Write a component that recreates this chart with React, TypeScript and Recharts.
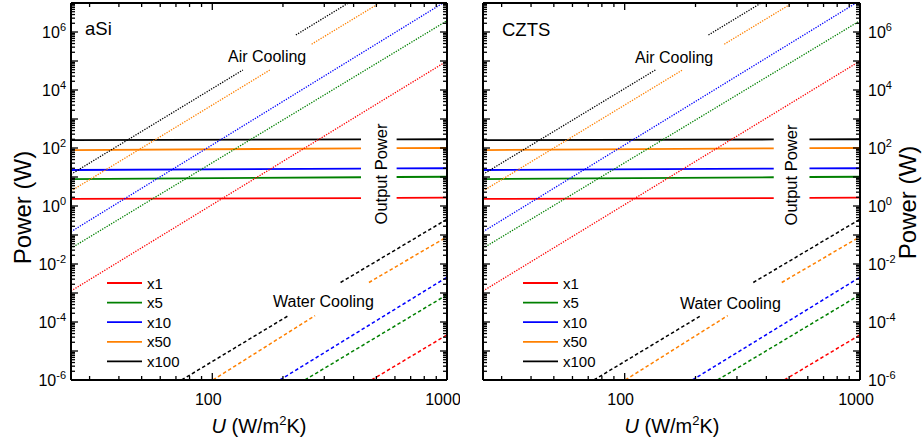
import React from "react";
import { LineChart, Line, XAxis, YAxis, Legend } from "recharts";

const FONT = '"Liberation Sans", Arial, Helvetica, sans-serif';

const series = ["x1", "x5", "x10", "x50", "x100"];
const seriesColors = ["#ff0000", "#008000", "#0000ff", "#ff8000", "#000000"];

// output power (W), solid lines, broken around the "Output Power" label
const outputU = [25, 430, 520, 610, 1000];
const outputP = [
  [1.75, 1.88, null, 1.9, 1.93],
  [8.5, 9.8, null, 10, 10.2],
  [17.4, 19.5, null, 19.8, 20],
  [85, 97, null, 99, 100],
  [187, 197, null, 199, 200],
];

// air cooling (dotted)
const airU = [
  [25, 1000],
  [25, 1000],
  [25, 962],
  [25, 176, 220, 265, 505],
  [25, 135, 180, 227, 380],
];
const airP = [
  [1.17e-3, 1.0e5],
  [0.035, 2.45e6],
  [0.13, 1e7],
  [3.3, 4.9e4, null, 3.8e5, 9e6],
  [12.4, 4.9e4, null, 7.9e5, 1e7],
];

// water cooling (dashed)
const waterU = [
  [477, 1000],
  [248, 1000],
  [194, 1000],
  [100.6, 274, 360, 465, 1000],
  [74, 211, 280, 352, 1000],
];
const waterP = [
  [1e-6, 3.6e-5],
  [1e-6, 8.7e-4],
  [1e-6, 3.5e-3],
  [1e-6, 1.66e-4, null, 2.3e-3, 8.7e-2],
  [1e-6, 1.66e-4, null, 2.3e-3, 0.35],
];

const xTicks = [30, 40, 50, 60, 70, 80, 90, 100, 200, 300, 400, 500, 600, 700, 800, 900, 1000];
const xLabels = [100, 1000];
const yDecades = [-6, -5, -4, -3, -2, -1, 0, 1, 2, 3, 4, 5, 6];
const yMantissas = [1, 2, 3, 4, 5, 6, 7, 8, 9];
const yTicks = [...yDecades.flatMap((e) => yMantissas.map((m) => m * 10 ** e)), 1e7];
const yLabelTicks = yDecades.filter((e) => e % 2 === 0).map((e) => 10 ** e);

const pts = (us: number[], ps: (number | null)[]) => us.map((u, i) => ({ u, p: ps[i] }));

const splitLog = (v: number) => {
  const e = Math.floor(Math.log10(v) + 1e-9);
  return { e, m: Math.round(v / 10 ** e) };
};

const MAJOR = 7;
const MINOR = 4;

// tick marks live on mirrored axes so they point into the plot
function InTick(props: any) {
  const { x, y, payload, side } = props;
  const v = payload.value;
  const major = side === "top" || side === "bottom" ? xLabels.includes(v) : splitLog(v).m === 1;
  const len = major ? MAJOR : MINOR;
  const d =
    side === "left" ? `M${x},${y}h${len}` :
    side === "right" ? `M${x},${y}h${-len}` :
    side === "bottom" ? `M${x},${y}v${-len}` : `M${x},${y}v${len}`;
  return <path d={d} stroke="#000" strokeWidth={1.3} fill="none" />;
}

function YLabel(props: any) {
  const { x, y, payload, side } = props;
  const { e } = splitLog(payload.value);
  const left = side === "left";
  return (
    <text x={left ? x - 5 : x + 8} y={y + 6} textAnchor={left ? "end" : "start"} fontSize={16} fontFamily={FONT} fill="#000">
      10
      <tspan dy={-7} fontSize={11}>
        {e}
      </tspan>
    </text>
  );
}

function XLabel(props: any) {
  const { x, y, payload } = props;
  return (
    <text x={x - 4} y={y + 25} textAnchor="middle" fontSize={16} fontFamily={FONT} fill="#000">
      {payload.value}
    </text>
  );
}

function LegendBox() {
  return (
    <svg width={80} height={100} style={{ display: "block" }}>
      {series.map((s, i) => (
        <g key={s}>
          <line x1={0} x2={35} y1={10 + i * 19.6} y2={10 + i * 19.6} stroke={seriesColors[i]} strokeWidth={1.8} />
          <text x={40} y={15.5 + i * 19.6} fontSize={15} fontFamily={FONT} fill="#000">
            {s}
          </text>
        </g>
      ))}
    </svg>
  );
}

const panels = [
  {
    name: "aSi", chartLeft: 0, chartWidth: 460, labelSide: "left",
    margin: { top: 3, right: 13, bottom: 0, left: 11 }, labelW: 60,
    nameX: 85, nameY: 35, airX: 228, airY: 62, waterX: 273, waterY: 307,
    outX: 386.5, outY: 174, titleX: 30.5, titleY: 207.5, uX: 259,
  },
  {
    name: "CZTS", chartLeft: 460, chartWidth: 462, labelSide: "right",
    margin: { top: 3, right: 12, bottom: 0, left: 23 }, labelW: 50,
    nameX: 502, nameY: 36, airX: 635, airY: 63, waterX: 680, waterY: 309,
    outX: 796.5, outY: 175, titleX: 915.5, titleY: 202.5, uX: 672,
  },
];

const xCommon = { dataKey: "u", type: "number" as const, scale: "log" as const, domain: [25, 1000], allowDataOverflow: true };
const yCommon = { type: "number" as const, scale: "log" as const, domain: [1e-6, 1e7], allowDataOverflow: true };

function Panel({ cfg }: { cfg: (typeof panels)[number] }) {
  const axisLine = { stroke: "#000", strokeWidth: 2 };
  return (
    <div style={{ position: "absolute", left: cfg.chartLeft, top: 0 }}>
      <LineChart width={cfg.chartWidth} height={443} margin={cfg.margin}>
        {/* labels */}
        <XAxis
          xAxisId="b" {...xCommon} ticks={xLabels} interval={0} height={63} tickSize={0} tickMargin={0}
          tickLine={false} axisLine={false} tick={(p: any) => <XLabel {...p} />}
        />
        <YAxis
          yAxisId="lab" orientation={cfg.labelSide as "left" | "right"} {...yCommon} ticks={yLabelTicks} interval={0}
          width={cfg.labelW} tickSize={0} tickMargin={0} tickLine={false} axisLine={false}
          tick={(p: any) => <YLabel {...p} side={cfg.labelSide} />}
        />
        {/* frame with inward ticks */}
        <XAxis
          xAxisId="bm" mirror {...xCommon} ticks={xTicks} interval={0} height={10} tickSize={0} tickMargin={0}
          tickLine={false} axisLine={axisLine} tick={(p: any) => <InTick {...p} side="bottom" />}
        />
        <XAxis
          xAxisId="tm" orientation="top" mirror {...xCommon} ticks={xTicks} interval={0} height={10} tickSize={0}
          tickMargin={0} tickLine={false} axisLine={axisLine} tick={(p: any) => <InTick {...p} side="top" />}
        />
        <YAxis
          yAxisId="lm" mirror {...yCommon} ticks={yTicks} interval={0} width={10} tickSize={0} tickMargin={0}
          tickLine={false} axisLine={axisLine} tick={(p: any) => <InTick {...p} side="left" />}
        />
        <YAxis
          yAxisId="rm" orientation="right" mirror {...yCommon} ticks={yTicks} interval={0} width={10} tickSize={0}
          tickMargin={0} tickLine={false} axisLine={axisLine} tick={(p: any) => <InTick {...p} side="right" />}
        />
        {series.map((s, i) => (
          <Line
            key={"out" + s} data={pts(outputU, outputP[i])} dataKey="p" xAxisId="b" yAxisId="lm"
            stroke={seriesColors[i]} strokeWidth={1.8} dot={false} isAnimationActive={false} legendType="none"
          />
        ))}
        {series.map((s, i) => (
          <Line
            key={"air" + s} data={pts(airU[i], airP[i])} dataKey="p" xAxisId="b" yAxisId="lm"
            stroke={seriesColors[i]} strokeWidth={1.3} strokeDasharray="1.3 1.3" dot={false}
            isAnimationActive={false} legendType="none"
          />
        ))}
        {series.map((s, i) => (
          <Line
            key={"water" + s} data={pts(waterU[i], waterP[i])} dataKey="p" xAxisId="b" yAxisId="lm"
            stroke={seriesColors[i]} strokeWidth={1.5} strokeDasharray="3.5 2.5" dot={false}
            isAnimationActive={false} legendType="none"
          />
        ))}
        <Legend
          layout="vertical" align="center" verticalAlign="middle"
          wrapperStyle={{ left: cfg.chartLeft === 0 ? 107 : 63, top: 273, width: 80, height: 100 }}
          content={() => <LegendBox />}
        />
      </LineChart>
    </div>
  );
}

export default function App() {
  return (
    <div style={{ position: "absolute", left: 0, top: 0, width: 922, height: 443, background: "#fff", fontFamily: FONT }}>
      {panels.map((cfg) => (
        <Panel key={cfg.name} cfg={cfg} />
      ))}
      <svg width={922} height={443} style={{ position: "absolute", left: 0, top: 0, pointerEvents: "none" }}>
        {panels.map((cfg) => (
          <g key={cfg.name} fontFamily={FONT} fill="#000">
            <text x={cfg.nameX} y={cfg.nameY} fontSize={18.5}>{cfg.name}</text>
            <text x={cfg.airX} y={cfg.airY} fontSize={16}>Air Cooling</text>
            <text x={cfg.waterX} y={cfg.waterY} fontSize={16}>Water Cooling</text>
            <text transform={`translate(${cfg.outX},${cfg.outY}) rotate(-90)`} textAnchor="middle" fontSize={16.5}>
              Output Power
            </text>
            <text transform={`translate(${cfg.titleX},${cfg.titleY}) rotate(-90)`} textAnchor="middle" fontSize={24}>
              Power (W)
            </text>
            <text x={cfg.uX} y={433} textAnchor="middle" fontSize={20}>
              <tspan fontStyle="italic">U</tspan> (W/m
              <tspan dy={-8} fontSize={13}>2</tspan>
              <tspan dy={8}>K)</tspan>
            </text>
          </g>
        ))}
      </svg>
    </div>
  );
}
